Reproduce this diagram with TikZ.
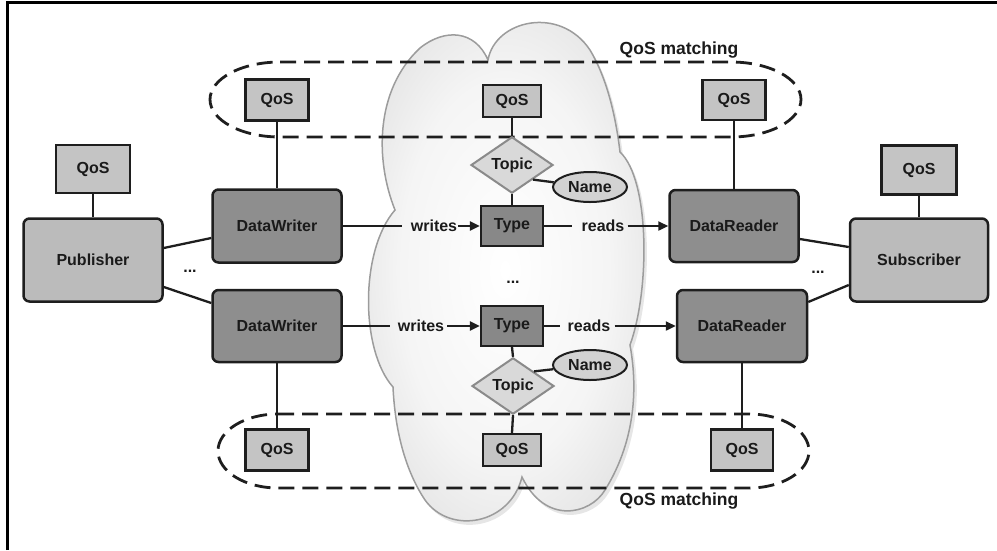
\documentclass[tikz,border=0pt]{standalone}
\usepackage{fontspec}
\setmainfont{Liberation Sans}
\usetikzlibrary{arrows.meta,shapes.geometric}
\definecolor{qosfill}{HTML}{C4C4C4}
\definecolor{pubfill}{HTML}{BBBBBB}
\definecolor{dwfill}{HTML}{8E8E8E}
\definecolor{typefill}{HTML}{888888}
\definecolor{topicfill}{HTML}{D9D9D9}
\definecolor{topicedge}{HTML}{8A8A8A}
\definecolor{namefill}{HTML}{D2D2D2}
\definecolor{edge}{HTML}{1E1E1E}
\definecolor{txt}{HTML}{1A1A1A}
\definecolor{cloudedge}{HTML}{9C9C9C}
\definecolor{cloudshadowc}{HTML}{E6E6E6}
\pgfdeclareradialshading{cloudshade}{\pgfpoint{0bp}{0bp}}{color(0bp)=(white); color(18bp)=(white!96!black); color(40bp)=(white!82!black); color(50bp)=(white!76!black)}
\begin{document}
\begin{tikzpicture}[x=1pt,y=-1pt,
  every node/.style={font=\fontsize{16}{19}\selectfont\bfseries, text=txt},
  qos/.style={draw=edge, line width=2.2pt, fill=qosfill, inner sep=0pt},
  bigbox/.style={draw=edge, line width=2.5pt, rounded corners=6pt, inner sep=0pt},
  typebox/.style={draw=edge, line width=2.2pt, fill=typefill, inner sep=0pt, minimum width=62pt, minimum height=40pt},
  topicbox/.style={diamond, draw=topicedge, line width=2pt, fill=topicfill, inner sep=0pt, minimum width=82pt, minimum height=38pt},
  namebox/.style={ellipse, draw=edge, line width=2pt, fill=namefill, inner sep=0pt, minimum width=74pt, minimum height=30pt},
  conn/.style={line width=2.3pt, draw=edge},
  arr/.style={conn, -{Triangle[length=10pt,width=9pt]}},
  match/.style={draw=edge, line width=2.8pt, dash pattern=on 16pt off 8pt},
  lbl/.style={inner sep=1pt},
  dots/.style={inner sep=0pt},
  matchlbl/.style={inner sep=0pt, font=\fontsize{17.5}{20}\selectfont\bfseries},
]
\useasboundingbox (0,0) rectangle (997,550);
% frame
\draw[line width=3pt, black] (7,550) -- (7,2.5) -- (997,2.5);

% cloud shadow
\fill[cloudshadowc]
  (398,214) .. controls (378,164) and (378,94) .. (423,52)
  .. controls (448,32) and (478,34) .. (491,64)
  .. controls (498,24) and (563,9) .. (593,54)
  .. controls (608,79) and (618,114) .. (623,156)
  .. controls (653,184) and (653,294) .. (633,349)
  .. controls (643,404) and (633,454) .. (608,494)
  .. controls (593,519) and (548,529) .. (525,481)
  .. controls (513,529) and (453,539) .. (428,504)
  .. controls (408,474) and (398,434) .. (396,391)
  .. controls (363,354) and (363,254) .. (398,214) -- cycle;
% cloud
\path[shading=cloudshade, draw=cloudedge, line width=1.5pt]
  (395,210) .. controls (375,160) and (375,90) .. (420,48)
  .. controls (445,28) and (475,30) .. (488,60)
  .. controls (495,20) and (560,5) .. (590,50)
  .. controls (605,75) and (615,110) .. (620,152)
  .. controls (650,180) and (650,290) .. (630,345)
  .. controls (640,400) and (630,450) .. (605,490)
  .. controls (590,515) and (545,525) .. (522,477)
  .. controls (510,525) and (450,535) .. (425,500)
  .. controls (405,470) and (395,430) .. (393,387)
  .. controls (360,350) and (360,250) .. (395,210) -- cycle;

% QoS matching regions
\draw[match] (280,62) -- (731,62) arc[start angle=90, end angle=-90, x radius=70pt, y radius=37.5pt]
  -- (280,137) arc[start angle=270, end angle=90, x radius=70pt, y radius=37.5pt] -- cycle;
\draw[match] (278,414) -- (749,414) arc[start angle=90, end angle=-90, x radius=60pt, y radius=37pt]
  -- (278,488) arc[start angle=270, end angle=90, x radius=60pt, y radius=37pt] -- cycle;
\node[matchlbl] (m1) at (679,50) {QoS matching};
\node[matchlbl] (m2) at (679,501) {QoS matching};

% publisher side
\node[qos, minimum width=74pt, minimum height=48pt] (pubq) at (93,169) {QoS};
\node[bigbox, fill=pubfill, minimum width=139pt, minimum height=83pt] (pub) at (93,260) {Publisher};
\node[bigbox, fill=dwfill, minimum width=129pt, minimum height=73pt] (dw1) at (277,226) {DataWriter};
\node[bigbox, fill=dwfill, minimum width=129pt, minimum height=72pt] (dw2) at (277,326) {DataWriter};
\node[qos, minimum width=63pt, minimum height=41pt] (dw1q) at (277,100) {QoS};
\node[qos, minimum width=63pt, minimum height=41pt] (dw2q) at (277,450) {QoS};

% topic side (inside cloud)
\node[typebox] (t1) at (512,226) {Type};
\node[typebox] (t2) at (512,326) {Type};
\node[topicbox] (tp1) at (512,165) {Topic};
\node[topicbox] (tp2) at (513,386) {Topic};
\node[namebox] (nm1) at (590,187) {Name};
\node[namebox] (nm2) at (590,365) {Name};
\node[qos, minimum width=58pt, minimum height=32pt] (tq1) at (512,101) {QoS};
\node[qos, minimum width=58pt, minimum height=32pt] (tq2) at (512,450) {QoS};

% subscriber side
\node[bigbox, fill=dwfill, minimum width=129pt, minimum height=72pt] (dr1) at (734,226) {DataReader};
\node[bigbox, fill=dwfill, minimum width=130pt, minimum height=72pt] (dr2) at (742,326) {DataReader};
\node[qos, minimum width=63pt, minimum height=40pt] (dr1q) at (734,100) {QoS};
\node[qos, minimum width=62pt, minimum height=41pt] (dr2q) at (742,450) {QoS};
\node[qos, minimum width=75pt, minimum height=49pt] (subq) at (919,170) {QoS};
\node[bigbox, fill=pubfill, minimum width=138pt, minimum height=83pt] (sub) at (919,260) {Subscriber};

% ellipsis marks
\node[dots] (d1) at (190,271) {...};
\node[dots] (d2) at (513,282) {...};
\node[dots] (d3) at (818,272) {...};

% labels on arrows
\node[lbl] (w1) at (434,226) {writes};
\node[lbl] (r1) at (603,226) {reads};
\node[lbl] (w2) at (421,326) {writes};
\node[lbl] (r2) at (589,326) {reads};

% connectors
\draw[conn] (pubq.south) -- (pub.north);
\draw[conn] (subq.south) -- (sub.north);
\draw[conn] ([yshift=12pt]pub.east) -- ([yshift=-12pt]dw1.west);
\draw[conn] ([yshift=-27pt]pub.east) -- ([yshift=23pt]dw2.west);
\draw[conn] ([yshift=-13pt]dr1.east) -- ([yshift=13pt]sub.west);
\draw[conn] ([yshift=24pt]dr2.east) -- ([yshift=-25pt]sub.west);
\draw[conn] (dw1q.south) -- (dw1.north);
\draw[conn] (dw2.south) -- (dw2q.north);
\draw[conn] (dr1q.south) -- (dr1.north);
\draw[conn] (dr2.south) -- (dr2q.north);
\draw[conn] (tq1.south) -- (tp1.north);
\draw[conn] (tp1.south) -- (t1.north);
\draw[conn] (t2.south) -- (tp2.north);
\draw[conn] (tp2.south) -- (tq2.north);
\draw[conn] (tp1.south east) -- (nm1);
\draw[conn] (tp2.north east) -- (nm2);

\draw[conn] (dw1.east) -- ([xshift=-8pt]w1.west);
\draw[arr] (w1.east) -- (t1.west);
\draw[conn] (t1.east) -- ([xshift=-8pt]r1.west);
\draw[arr] ([xshift=2pt]r1.east) -- (dr1.west);
\draw[conn] (dw2.east) -- ([xshift=-7pt]w2.west);
\draw[arr] ([xshift=2pt]w2.east) -- (t2.west);
\draw[conn] (t2.east) -- ([xshift=-6pt]r2.west);
\draw[arr] ([xshift=3pt]r2.east) -- (dr2.west);
\end{tikzpicture}
\end{document}
